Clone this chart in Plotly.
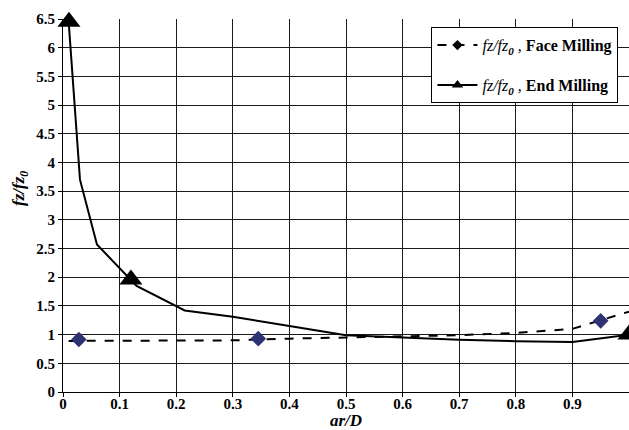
import plotly.graph_objects as go

# Face milling: fitted curve and measured points
face_line_x = [0.01, 0.1, 0.2, 0.3, 0.4, 0.5, 0.6, 0.7, 0.8, 0.9, 1.0]
face_line_y = [0.89, 0.89, 0.89, 0.90, 0.93, 0.95, 0.97, 0.99, 1.03, 1.10, 1.40]
face_pts_x = [0.028, 0.345, 0.95]
face_pts_y = [0.915, 0.93, 1.24]

# End milling: fitted curve and measured points
end_line_x = [0.01, 0.03, 0.06, 0.13, 0.215, 0.3, 0.4, 0.5, 0.6, 0.7, 0.8, 0.9, 1.0]
end_line_y = [6.45, 3.70, 2.57, 1.85, 1.42, 1.31, 1.15, 0.99, 0.95, 0.91, 0.885, 0.873, 1.0]
end_pts_x = [0.0105, 0.12, 1.0]
end_pts_y = [6.45, 1.96, 1.0]

x_ticks = [0, 0.1, 0.2, 0.3, 0.4, 0.5, 0.6, 0.7, 0.8, 0.9, 1.0]
x_tick_labels = ["0", "0.1", "0.2", "0.3", "0.4", "0.5", "0.6", "0.7", "0.8", "0.9", "1"]
y_ticks = [0, 0.5, 1, 1.5, 2, 2.5, 3, 3.5, 4, 4.5, 5, 5.5, 6, 6.5]
y_tick_labels = ["0", "0.5", "1", "1.5", "2", "2.5", "3", "3.5", "4", "4.5", "5", "5.5", "6", "6.5"]

face_name = "<i>fz/fz<sub><b>0</b></sub></i> , <b>Face Milling</b>"
end_name = "<i>fz/fz<sub><b>0</b></sub></i> , <b>End Milling</b>"

FONT = "Liberation Serif, Times New Roman, serif"
NAVY = "#2e3272"

fig = go.Figure()
fig.add_trace(go.Scatter(x=face_line_x, y=face_line_y, mode="lines",
                         line=dict(color="black", width=2, dash="dash"),
                         showlegend=False, hoverinfo="skip"))
fig.add_trace(go.Scatter(x=end_line_x, y=end_line_y, mode="lines",
                         line=dict(color="black", width=2),
                         showlegend=False, hoverinfo="skip"))
fig.add_trace(go.Scatter(x=face_pts_x, y=face_pts_y, mode="markers",
                         marker=dict(symbol="diamond", size=12, color=NAVY),
                         showlegend=False, cliponaxis=False))
fig.add_trace(go.Scatter(x=end_pts_x, y=end_pts_y, mode="markers",
                         marker=dict(symbol="triangle-up", size=20, color="black"),
                         showlegend=False, cliponaxis=False))
# legend entries
fig.add_trace(go.Scatter(x=[None], y=[None], mode="lines+markers", name=face_name,
                         legendgroup="a",
                         line=dict(color="black", width=2, dash="dash"),
                         marker=dict(symbol="diamond", size=8, color="black")))
fig.add_trace(go.Scatter(x=[None], y=[None], mode="lines+markers", name=end_name,
                         legendgroup="b",
                         line=dict(color="black", width=2),
                         marker=dict(symbol="triangle-up", size=10, color="black")))

fig.update_layout(
    width=629, height=430,
    margin=dict(l=63, r=0, t=19, b=38),
    paper_bgcolor="white", plot_bgcolor="white",
    font=dict(family=FONT, color="black", size=14),
    legend=dict(x=0.651, y=0.978, xanchor="left", yanchor="top",
                bgcolor="white", bordercolor="black", borderwidth=1,
                font=dict(family=FONT, size=16), tracegroupgap=16,
                itemwidth=40),
    xaxis=dict(range=[0, 1.0], tickvals=x_ticks, ticktext=[f"<b>{t}</b>" for t in x_tick_labels],
               showgrid=True, gridcolor="#1a1a1a", gridwidth=1.2, automargin=False,
               showline=True, linecolor="black", linewidth=1,
               ticks="outside", ticklen=4, tickcolor="black", ticklabelstandoff=-6,
               zeroline=False, tickfont=dict(family=FONT, size=15)),
    yaxis=dict(range=[0, 6.5], tickvals=y_ticks, ticktext=[f"<b>{t}</b>" for t in y_tick_labels],
               showgrid=True, gridcolor="#1a1a1a", gridwidth=1.2, automargin=False,
               showline=True, linecolor="black", linewidth=1,
               ticks="outside", ticklen=4, tickcolor="black",
               zeroline=False, tickfont=dict(family=FONT, size=15)),
    annotations=[
        dict(text="<b><i>ar/D</i></b>", xref="paper", yref="paper",
             x=0.5, y=-0.076, xanchor="center", yanchor="middle", showarrow=False,
             font=dict(family=FONT, size=17)),
        dict(text="<b><i>fz/fz<sub>0</sub></i></b>", xref="paper", yref="paper",
             x=-0.076, y=0.547, xanchor="center", yanchor="middle", showarrow=False,
             textangle=-90, font=dict(family=FONT, size=17)),
    ],
)

fig.write_html("out.html", config={"displayModeBar": False},
               post_script="document.body.style.margin='0';document.body.style.overflow='hidden';")
